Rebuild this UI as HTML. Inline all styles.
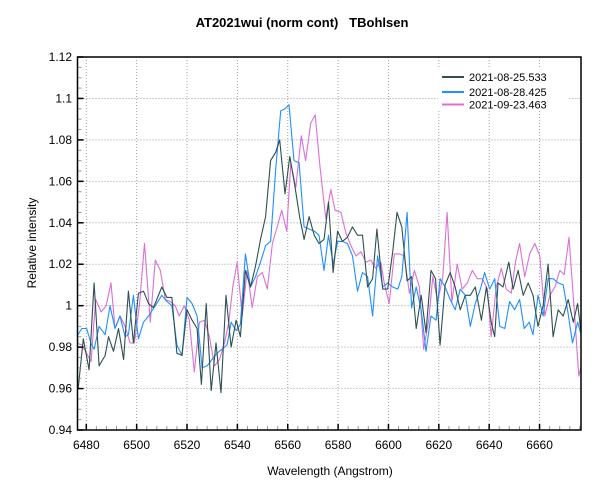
<!DOCTYPE html>
<html><head><meta charset="utf-8">
<style>
html,body{margin:0;padding:0;background:#fff;}
svg{display:block;font-family:"Liberation Sans",sans-serif;}
</style></head>
<body>
<svg id="chart" width="600" height="500" viewBox="0 0 600 500">
<rect x="0" y="0" width="600" height="500" fill="#fff"/>
<text x="302" y="27" text-anchor="middle" font-size="13" font-weight="bold">AT2021wui (norm cont)&#160;&#160;&#160;TBohlsen</text>
<g id="grid"></g>
<defs><clipPath id="plotclip"><rect x="78" y="57" width="503" height="373"/></clipPath></defs>
<g id="series" clip-path="url(#plotclip)"></g>
<g id="axes"></g>
<text x="330" y="475" text-anchor="middle" font-size="12">Wavelength (Angstrom)</text>
<text transform="translate(36,243) rotate(-90)" text-anchor="middle" font-size="12">Relative intensity</text>
<g id="legend"></g>
</svg>
<script>
const xTicks = [6480,6500,6520,6540,6560,6580,6600,6620,6640,6660];
const yTicks = [0.94,0.96,0.98,1,1.02,1.04,1.06,1.08,1.1,1.12];
const yTickLabels = ["0.94","0.96","0.98","1","1.02","1.04","1.06","1.08","1.1","1.12"];
const seriesNames = ["2021-08-25.533","2021-08-28.425","2021-09-23.463"];
const X_CAL = 1.1;

const waveA = [6475.7,6477.7,6480.0,6482.0,6484.0,6486.4,6487.7,6489.7,6491.7,6493.7,6495.6,6497.6,6499.6,6501.6,6503.6,6505.6,6508.9,6510.9,6512.9,6514.9,6516.9,6518.9,6520.9,6522.9,6524.6,6526.5,6528.5,6530.4,6532.4,6534.4,6536.4,6538.4,6540.1,6542.1,6544.1,6546.1,6548.1,6550.1,6552.1,6554.1,6555.7,6557.8,6559.7,6561.7,6563.6,6565.4,6567.4,6569.4,6571.3,6573.3,6575.1,6576.9,6578.7,6580.6,6582.6,6584.6,6586.6,6588.6,6590.6,6592.6,6594.3,6596.6,6598.6,6600.6,6602.3,6604.2,6606.3,6608.1,6609.9,6611.9,6613.8,6615.8,6617.6,6619.4,6621.4,6623.4,6625.4,6627.4,6629.4,6631.4,6633.4,6635.8,6637.8,6639.7,6641.1,6642.4,6644.4,6646.7,6648.4,6650.4,6652.4,6654.4,6656.3,6658.3,6660.3,6662.3,6664.3,6666.3,6668.3,6670.3,6672.3,6674.0,6675.9];
const fluxA = [0.960,0.984,0.969,1.011,0.971,0.976,0.985,0.978,0.989,0.974,1.007,0.982,1.006,1.007,1.001,0.999,1.009,1.004,1.004,0.977,0.976,0.998,0.993,0.989,0.962,1.001,0.959,0.982,0.958,1.005,0.980,0.993,0.985,1.017,1.009,1.019,1.032,1.043,1.070,1.074,1.080,1.054,1.072,1.058,1.043,1.032,1.043,1.034,1.030,1.032,1.050,1.016,1.036,1.031,1.033,1.038,1.034,1.034,1.009,1.013,1.037,1.008,1.008,1.026,1.045,1.038,1.012,1.014,0.989,1.005,0.987,1.017,1.013,0.981,1.010,1.016,1.009,0.998,1.005,1.005,1.009,0.993,1.009,0.992,0.985,1.011,1.009,1.021,1.008,1.017,1.005,1.011,1.005,0.990,1.000,1.020,0.985,0.998,0.995,1.003,0.992,1.001,0.982];

const waveB = [6475.1,6477.1,6479.0,6481.0,6482.0,6484.0,6486.4,6488.3,6490.3,6492.3,6494.3,6495.6,6497.6,6499.6,6501.6,6503.6,6506.3,6508.9,6510.9,6512.9,6514.9,6516.9,6518.9,6520.9,6522.9,6524.9,6526.9,6528.8,6530.8,6532.8,6534.8,6536.4,6538.4,6540.1,6542.1,6544.1,6546.1,6548.1,6550.1,6552.1,6554.1,6556.1,6557.8,6559.4,6561.4,6563.4,6565.4,6567.4,6569.4,6571.3,6573.3,6575.1,6576.9,6578.7,6580.6,6582.6,6584.6,6586.6,6588.6,6590.6,6592.6,6594.6,6596.6,6598.6,6600.6,6602.6,6604.2,6606.3,6608.1,6609.9,6611.9,6613.8,6615.8,6617.8,6619.4,6621.4,6623.4,6625.4,6627.4,6629.4,6631.4,6633.4,6635.4,6637.1,6639.1,6641.1,6643.1,6645.1,6647.0,6649.0,6651.0,6652.8,6654.8,6656.3,6658.3,6660.3,6662.3,6664.3,6666.3,6668.3,6670.3,6672.0,6674.0,6675.9];
const fluxB = [0.985,0.989,0.989,0.981,0.979,0.990,0.986,1.000,0.989,0.995,0.985,0.986,1.005,0.984,0.992,0.995,1.000,1.005,1.002,1.000,0.981,0.976,1.004,1.001,0.995,0.970,0.971,0.974,0.977,0.979,0.981,0.992,0.988,0.991,1.025,1.009,1.014,1.021,1.029,1.031,1.066,1.094,1.095,1.097,1.070,1.069,1.038,1.037,1.036,1.034,1.017,1.034,1.020,1.031,1.031,1.030,1.024,1.007,1.016,1.014,0.995,1.024,1.009,1.011,1.009,1.008,1.014,1.045,0.999,1.009,0.998,0.978,0.995,0.993,1.013,1.009,1.003,0.998,1.008,1.005,0.990,1.001,1.008,1.016,1.008,1.013,0.990,0.989,1.002,0.998,1.003,0.989,0.992,0.986,1.005,0.995,1.013,1.013,1.011,1.010,0.996,0.982,0.992,0.984];

const waveC = [6475.1,6477.1,6479.0,6480.8,6482.6,6484.8,6486.8,6488.7,6490.3,6492.3,6494.3,6496.3,6498.0,6500.0,6502.0,6504.3,6506.3,6508.3,6510.3,6512.2,6514.2,6515.8,6517.8,6519.8,6521.8,6523.8,6525.8,6527.8,6529.8,6531.8,6533.8,6535.5,6537.1,6538.8,6540.8,6542.8,6544.8,6546.8,6548.8,6550.8,6552.8,6554.7,6556.5,6558.5,6560.1,6562.1,6564.3,6566.0,6568.0,6569.8,6571.7,6574.0,6576.0,6577.7,6580.0,6582.0,6584.0,6586.0,6588.0,6589.9,6591.9,6593.9,6595.9,6597.2,6599.2,6601.2,6603.2,6605.2,6607.2,6609.2,6611.2,6612.9,6614.9,6616.5,6618.5,6620.5,6622.2,6624.1,6626.2,6628.2,6630.2,6632.2,6634.2,6636.2,6638.2,6639.7,6641.7,6643.7,6645.7,6647.7,6649.3,6651.0,6653.0,6655.0,6657.0,6659.0,6661.0,6663.0,6665.0,6667.0,6668.7,6670.6,6672.5,6674.5,6675.9];
const fluxC = [0.982,0.981,0.977,0.973,1.003,0.997,1.000,1.011,0.989,0.995,0.990,0.982,0.982,1.000,1.030,0.992,1.022,1.017,1.003,1.002,1.000,0.995,1.000,0.993,0.968,0.992,0.993,0.985,0.971,0.974,0.982,0.992,1.009,1.021,0.995,1.017,0.999,1.014,1.016,1.008,1.030,1.038,1.046,1.036,1.069,1.057,1.082,1.070,1.088,1.092,1.067,1.042,1.056,1.046,1.045,1.035,1.029,1.024,1.026,1.021,1.022,1.018,1.021,1.011,1.001,1.025,1.025,1.024,1.006,1.017,1.009,0.979,0.993,1.014,1.002,1.014,1.045,1.002,1.020,1.008,1.011,1.017,1.013,1.013,1.008,0.985,1.009,1.018,1.008,1.006,1.021,1.030,1.014,1.025,1.030,1.024,0.995,1.005,1.009,1.017,1.015,1.033,1.001,0.966,0.973];

const seriesColors = ["#2f4f4f","#1e90ff","#da70d6"];
const NS = "http://www.w3.org/2000/svg";
const L = 77.5, R = 581, T = 57, B = 430;
const X0 = 6480, XPX0 = 86.3, XS = 2.518;
function xPx(w){ return XPX0 + (w - X0) * XS; }
function yPx(v){ return B - (v - 0.94) / 0.18 * (B - T); }
function mk(tag, attrs, parent){ const e=document.createElementNS(NS,tag); for(const k in attrs) e.setAttribute(k,attrs[k]); parent.appendChild(e); return e; }

const grid = document.getElementById('grid');
const axes = document.getElementById('axes');
xTicks.forEach((t,i)=>{
  const x = xPx(t);
  const g = mk('line',{x1:x,x2:x,y1:T,y2:B,stroke:'#a0a0a0','stroke-dasharray':'1,2','stroke-width':1},grid);
  
  
  const tk = mk('line',{x1:x,x2:x,y1:B,y2:B-6,stroke:'#000','stroke-width':1.5},axes);
  
  
  const lb = mk('text',{x:x,y:449,'text-anchor':'middle','font-size':12},axes);
  lb.textContent = String(t);
  
  
});
for(let w=6480; w<=6676; w+=4){
  if((w-6480)%20===0) continue;
  const x = xPx(w);
  const m = mk('line',{x1:x,x2:x,y1:B,y2:B-4,stroke:'#999','stroke-width':1},axes);
  
  
}
yTicks.forEach((t,i)=>{
  const y = yPx(t);
  const g = mk('line',{x1:L,x2:R,y1:y,y2:y,stroke:'#a0a0a0','stroke-dasharray':'1,2','stroke-width':1},grid);
  
  
  const tk = mk('line',{x1:L,x2:L+6,y1:y,y2:y,stroke:'#000','stroke-width':1.5},axes);
  
  
  const lb = mk('text',{x:72,y:y+4,'text-anchor':'end','font-size':12},axes);
  lb.textContent = yTickLabels[i];
  
  
});
for(let k=1;k<36;k++){
  if(k%4===0) continue;
  const y = yPx(0.94 + k*0.005);
  const m = mk('line',{x1:L,x2:L+4,y1:y,y2:y,stroke:'#999','stroke-width':1},axes);
  
  
}
const frame = mk('rect',{x:L,y:T,width:R-L,height:B-T,fill:'none',stroke:'#000','stroke-width':1.5},axes);



const sg = document.getElementById('series');
const allW = [waveA, waveB, waveC];
const allF = [fluxA, fluxB, fluxC];
const seriesKeys = ['series-2021-08-25','series-2021-08-28','series-2021-09-23'];
[2,1,0].forEach(s=>{
  const pts = allW[s].map((w,i)=>xPx(w+X_CAL).toFixed(1)+','+yPx(allF[s][i]).toFixed(1)).join(' ');
  const pl = mk('polyline',{points:pts,fill:'none',stroke:seriesColors[s],'stroke-width':1.1,'stroke-linejoin':'round'},sg);
  
  
});

const lg = document.getElementById('legend');
mk('rect',{x:438,y:69,width:130,height:42,fill:'#fff'},lg);
const ly = [77,92,104.5];
seriesNames.forEach((n,i)=>{
  const ln = mk('line',{x1:442,x2:464,y1:ly[i],y2:ly[i],stroke:seriesColors[i],'stroke-width':2},lg);
  
  
  const t = mk('text',{x:469,y:ly[i]+4,'font-size':11},lg);
  t.textContent = n;
  
  
});
</script>
</body></html>
